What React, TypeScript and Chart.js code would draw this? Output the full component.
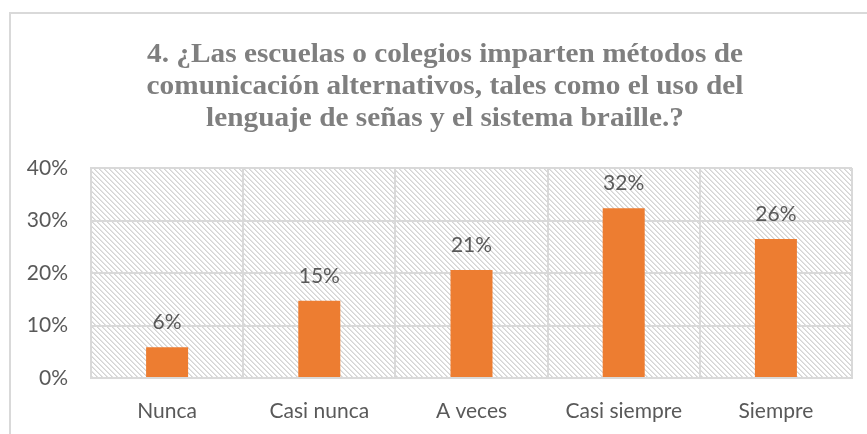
import React, { useEffect, useRef } from "react";
import { Chart, registerables } from "chart.js";

Chart.register(...registerables);

const categories = ["Nunca", "Casi nunca", "A veces", "Casi siempre", "Siempre"];
const values = [0.0588, 0.1471, 0.2059, 0.3235, 0.2647];
const yTicks = [0, 0.1, 0.2, 0.3, 0.4];
const titleLines = [
  "4. ¿Las escuelas o colegios imparten métodos de",
  "comunicación alternativos, tales como el uso del",
  "lenguaje de señas y el sistema braille.?",
];

const LABEL_FONT = '21px Lato';
const LABEL_COLOR = "#595959";
const GRID = "#d9d9d9";

const pct = (v: number) => Math.round(v * 100) + "%";

function makePattern(ctx: CanvasRenderingContext2D) {
  const t = document.createElement("canvas");
  t.width = 5;
  t.height = 5;
  const c = t.getContext("2d")!;
  c.fillStyle = "#ffffff";
  c.fillRect(0, 0, 5, 5);
  for (let i = 0; i < 5; i++) {
    c.fillStyle = "#d4d4d4";
    c.fillRect(i, i, 1, 1);
    c.fillStyle = "#e4e4e4";
    c.fillRect((i + 1) % 5, i, 1, 1);
  }
  return ctx.createPattern(t, "repeat")!;
}

const decorPlugin = {
  id: "decor",
  beforeDraw(chart: any) {
    const { ctx, chartArea: a } = chart;
    ctx.save();
    ctx.fillStyle = "#ffffff";
    ctx.fillRect(0, 0, chart.width, chart.height);
    ctx.fillStyle = makePattern(ctx);
    ctx.fillRect(a.left, a.top, a.right - a.left, a.bottom - a.top);
    ctx.restore();
  },
  afterDatasetsDraw(chart: any) {
    const { ctx } = chart;
    const meta = chart.getDatasetMeta(0);
    ctx.save();
    ctx.font = LABEL_FONT;
    ctx.fillStyle = LABEL_COLOR;
    ctx.textAlign = "center";
    ctx.textBaseline = "middle";
    meta.data.forEach((el: any, i: number) => {
      ctx.fillText(pct(values[i]), el.x, el.y - 25);
    });
    ctx.restore();
  },
  afterDraw(chart: any) {
    const { ctx } = chart;
    ctx.save();
    ctx.strokeStyle = GRID;
    ctx.lineWidth = 2;
    ctx.beginPath();
    ctx.moveTo(10, chart.height);
    ctx.lineTo(10, 13);
    ctx.lineTo(chart.width, 13);
    ctx.stroke();
    ctx.font = 'bold 28px "Liberation Serif"';
    ctx.fillStyle = "#7f7f7f";
    ctx.textAlign = "center";
    ctx.textBaseline = "alphabetic";
    const sx = 596 / ctx.measureText(titleLines[0]).width;
    const baselines = [62, 94, 126];
    titleLines.forEach((line, i) => {
      ctx.save();
      ctx.translate(445, baselines[i]);
      ctx.scale(sx, 1);
      ctx.fillText(line, 0, 0);
      ctx.restore();
    });
    ctx.restore();
  },
};

export default function App() {
  const ref = useRef<HTMLCanvasElement>(null);
  useEffect(() => {
    document.body.style.margin = "0";
    const chart = new Chart(ref.current!, {
      type: "bar",
      data: {
        labels: categories,
        datasets: [
          {
            data: values,
            backgroundColor: "#ed7d31",
            borderWidth: 0,
            categoryPercentage: 1,
            barPercentage: 0.276,
          },
        ],
      },
      options: {
        animation: false,
        responsive: false,
        layout: { padding: { top: 168, right: 15, left: 0, bottom: 0 } },
        plugins: { legend: { display: false }, tooltip: { enabled: false }, title: { display: false } },
        scales: {
          x: {
            grid: { color: GRID, lineWidth: 2, drawTicks: false, offset: true },
            border: { color: GRID, width: 2 },
            ticks: { color: LABEL_COLOR, font: { family: "Lato", size: 21 }, padding: 21 },
            afterFit(s: any) {
              s.height = 56;
            },
          },
          y: {
            min: 0,
            max: 0.4,
            grid: { color: GRID, lineWidth: 2, drawTicks: false },
            border: { color: GRID, width: 2 },
            afterBuildTicks(s: any) {
              s.ticks = yTicks.map((v) => ({ value: v }));
            },
            ticks: {
              color: LABEL_COLOR,
              font: { family: "Lato", size: 21 },
              padding: 23,
              callback: (v: any) => pct(Number(v)),
            },
            afterFit(s: any) {
              s.width = 91;
            },
          },
        },
      },
      plugins: [decorPlugin],
    });
    return () => chart.destroy();
  }, []);
  return <canvas ref={ref} width={867} height={434} />;
}
